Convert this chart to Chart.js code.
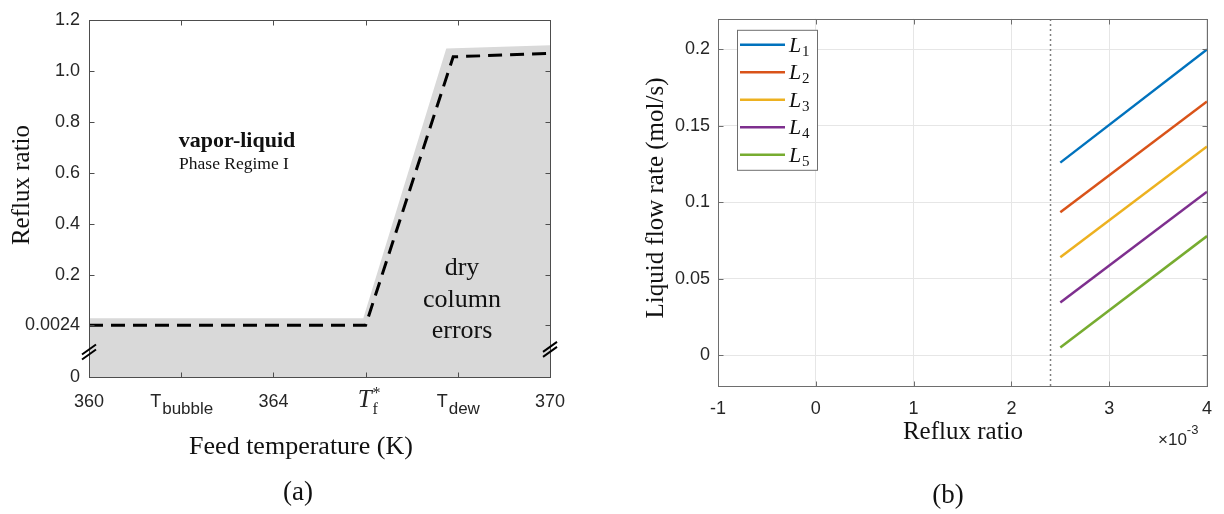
<!DOCTYPE html>
<html>
<head>
<meta charset="utf-8">
<script src="https://cdn.jsdelivr.net/npm/chart.js@4.4.1/dist/chart.umd.min.js"></script>
<style>
html, body { margin: 0; padding: 0; background: #fff; }
#wrap { position: relative; width: 1224px; height: 514px; overflow: hidden; }
#regime { position: absolute; left: 0; top: 0; }
#flow { position: absolute; left: 600px; top: 0; }
</style>
</head>
<body>
<div id="wrap">
  <canvas id="regime" width="600" height="514"></canvas>
  <canvas id="flow" width="624" height="514"></canvas>
</div>
<script>
// (a) operating regimes vs feed temperature
var feedTicks = [360, 362, 364, 366, 368, 370];
var feedTickText = ['360', 'T', '364', 'T', 'T', '370'];
var feedTickSub = ['', 'bubble', '', 'f', 'dew', ''];
var feedTickSup = ['', '', '', '*', '', ''];
var refluxTicks = [-0.2, 0.0024, 0.2, 0.4, 0.6, 0.8, 1.0, 1.2];
var refluxTickLabels = ['0', '0.0024', '0.2', '0.4', '0.6', '0.8', '1.0', '1.2'];
var boundaryT = [360, 366, 367.9, 370];
var boundaryR = [0.0024, 0.0024, 1.055, 1.068];
var dryT = [360, 365.95, 367.75, 370];
var dryR = [0.03, 0.03, 1.088, 1.10];

// (b) liquid flow per stream vs reflux ratio
var refluxB = [0.0025, 0.004];
var flowL1 = [0.126, 0.200];
var flowL2 = [0.0936, 0.166];
var flowL3 = [0.0641, 0.1365];
var flowL4 = [0.0346, 0.107];
var flowL5 = [0.0051, 0.078];
var minReflux = 0.0024;
var refluxTicksB = [-0.001, 0, 0.001, 0.002, 0.003, 0.004];
var refluxTickLabelsB = ['-1', '0', '1', '2', '3', '4'];
var flowTicks = [0, 0.05, 0.1, 0.15, 0.2];
var flowTickLabels = ['0', '0.05', '0.1', '0.15', '0.2'];
var streamNames = ['1', '2', '3', '4', '5'];
var streamColors = ['#0072BD', '#D95319', '#EDB120', '#7E2F8E', '#77AC30'];

var sans = '"Liberation Sans", Arial, sans-serif';
var serif = '"Liberation Serif", "Times New Roman", serif';
var ink = '#262626';

function pts(xs, ys) {
  return xs.map(function (x, i) { return { x: x, y: ys[i] }; });
}

function setTicks(vals) {
  return function (scale) {
    scale.ticks = vals.map(function (v) { return { value: v }; });
  };
}

// box round the plot with inward tick marks on all four sides
function frame(chart, len, color) {
  var ctx = chart.ctx, a = chart.chartArea;
  var sx = chart.scales.x, sy = chart.scales.y;
  var l = Math.round(a.left) + 0.5, r = Math.round(a.right) + 0.5;
  var t = Math.round(a.top) + 0.5, b = Math.round(a.bottom) + 0.5;
  ctx.save();
  ctx.strokeStyle = color;
  ctx.lineWidth = 1;
  ctx.beginPath();
  sx.ticks.forEach(function (tk) {
    var px = Math.round(sx.getPixelForValue(tk.value)) + 0.5;
    ctx.moveTo(px, t); ctx.lineTo(px, t + len);
    ctx.moveTo(px, b); ctx.lineTo(px, b - len);
  });
  sy.ticks.forEach(function (tk) {
    var py = Math.round(sy.getPixelForValue(tk.value)) + 0.5;
    ctx.moveTo(l, py); ctx.lineTo(l + len, py);
    ctx.moveTo(r, py); ctx.lineTo(r - len, py);
  });
  ctx.stroke();
  ctx.strokeRect(l, t, r - l, b - t);
  ctx.restore();
}

function label(ctx, str, x, y, font, align) {
  ctx.font = font;
  ctx.fillStyle = '#111';
  ctx.textAlign = align || 'center';
  ctx.textBaseline = 'alphabetic';
  ctx.fillText(str, x, y);
}

function vlabel(ctx, str, x, y, font) {
  ctx.save();
  ctx.translate(x, y);
  ctx.rotate(-Math.PI / 2);
  ctx.font = font;
  ctx.fillStyle = '#111';
  ctx.textAlign = 'center';
  ctx.textBaseline = 'middle';
  ctx.fillText(str, 0, 0);
  ctx.restore();
}

// text with a subscript and/or superscript, centred on x
function scripted(ctx, x, y, main, sub, sup, mainFont, smallFont, color) {
  ctx.font = mainFont;
  var wm = ctx.measureText(main).width;
  ctx.font = smallFont;
  var ws = Math.max(ctx.measureText(sub).width, ctx.measureText(sup).width);
  var x0 = x - (wm + ws) / 2;
  ctx.fillStyle = color;
  ctx.textAlign = 'left';
  ctx.textBaseline = 'alphabetic';
  ctx.font = mainFont;
  ctx.fillText(main, x0, y);
  ctx.font = smallFont;
  if (sub) ctx.fillText(sub, x0 + wm + 1, y + 7);
  if (sup) ctx.fillText(sup, x0 + wm + 1, y - 9);
}

function axisBreak(ctx, x, y) {
  ctx.save();
  ctx.strokeStyle = '#000';
  ctx.lineWidth = 2;
  ctx.beginPath();
  ctx.moveTo(x - 7, y + 3); ctx.lineTo(x + 7, y - 7);
  ctx.moveTo(x - 7, y + 8); ctx.lineTo(x + 7, y - 2);
  ctx.stroke();
  ctx.restore();
}

var regimeDecor = {
  id: 'regimeDecor',
  afterDraw: function (chart) {
    var ctx = chart.ctx, sx = chart.scales.x, sy = chart.scales.y, a = chart.chartArea;
    frame(chart, 5, '#4d4d4d');
    axisBreak(ctx, a.left, sy.getPixelForValue(-0.1));
    axisBreak(ctx, a.right, sy.getPixelForValue(-0.09));

    feedTicks.forEach(function (v, i) {
      var px = sx.getPixelForValue(v);
      if (feedTickSup[i]) {
        scripted(ctx, px + 3, 407, feedTickText[i], feedTickSub[i], feedTickSup[i],
          'italic 25px ' + serif, '16px ' + serif, ink);
      } else {
        scripted(ctx, px, 407, feedTickText[i], feedTickSub[i], '',
          '18px ' + sans, '17px ' + sans, ink);
      }
    });

    label(ctx, 'vapor-liquid', 237, 147, 'bold 22px ' + serif);
    label(ctx, 'Phase Regime I', 234, 169, '17.5px ' + serif);
    label(ctx, 'dry', 462, 275, '26px ' + serif);
    label(ctx, 'column', 462, 307, '26px ' + serif);
    label(ctx, 'errors', 462, 338, '26px ' + serif);

    vlabel(ctx, 'Reflux ratio', 22, 185, '25px ' + serif);
    label(ctx, 'Feed temperature (K)', 301, 454, '26px ' + serif);
    label(ctx, '(a)', 298, 500, '27px ' + serif);
  }
};

new Chart(document.getElementById('regime'), {
  type: 'scatter',
  data: {
    datasets: [{
      // phase boundary (drawn on top of the shaded region)
      data: pts(boundaryT, boundaryR),
      showLine: true,
      fill: false,
      borderColor: '#000',
      borderWidth: 3,
      borderDash: [14, 8],
      pointRadius: 0
    }, {
      // dry column region
      data: pts(dryT, dryR),
      showLine: true,
      fill: 'start',
      backgroundColor: '#d9d9d9',
      borderWidth: 0,
      pointRadius: 0
    }]
  },
  options: {
    responsive: false,
    animation: false,
    layout: { padding: { left: 0, right: 50, top: 14, bottom: 0 } },
    plugins: { legend: { display: false }, tooltip: { enabled: false } },
    scales: {
      x: {
        type: 'linear', min: 360, max: 370,
        afterBuildTicks: setTicks(feedTicks),
        afterFit: function (s) { s.height = 137; },
        grid: { display: false, drawTicks: false },
        border: { display: false },
        ticks: { display: false }
      },
      y: {
        min: -0.2, max: 1.2,
        afterBuildTicks: setTicks(refluxTicks),
        afterFit: function (s) { s.width = 89; },
        grid: { display: false, drawTicks: false },
        border: { display: false },
        ticks: {
          padding: 9,
          color: ink,
          font: { family: sans, size: 18 },
          callback: function (v, i) { return refluxTickLabels[i]; }
        }
      }
    }
  },
  plugins: [regimeDecor]
});

var flowDecor = {
  id: 'flowDecor',
  afterDraw: function (chart) {
    var ctx = chart.ctx, a = chart.chartArea;
    frame(chart, 5, '#6e6e6e');

    // legend box
    var lx = a.left + 19, ly = a.top + 11;
    ctx.save();
    ctx.fillStyle = '#fff';
    ctx.fillRect(lx, ly, 80, 140);
    ctx.strokeStyle = '#6e6e6e';
    ctx.lineWidth = 1;
    ctx.strokeRect(lx + 0.5, ly + 0.5, 80, 140);
    streamNames.forEach(function (n, i) {
      var y = ly + 15 + i * 27.5;
      ctx.strokeStyle = streamColors[i];
      ctx.lineWidth = 2.5;
      ctx.beginPath();
      ctx.moveTo(lx + 3, y); ctx.lineTo(lx + 48, y);
      ctx.stroke();
      ctx.fillStyle = '#111';
      ctx.textAlign = 'left';
      ctx.textBaseline = 'alphabetic';
      ctx.font = 'italic 22px ' + serif;
      ctx.fillText('L', lx + 52, y + 7);
      ctx.font = '15px ' + serif;
      ctx.fillText(n, lx + 65, y + 11);
    });
    ctx.restore();

    vlabel(ctx, 'Liquid flow rate (mol/s)', 56, 198, '25px ' + serif);
    label(ctx, 'Reflux ratio', 363, 439, '25px ' + serif);
    ctx.font = '17px ' + sans;
    ctx.fillStyle = ink;
    ctx.textAlign = 'left';
    ctx.fillText('\u00d710', 558, 445);
    var w = ctx.measureText('\u00d710').width;
    ctx.font = '13px ' + sans;
    ctx.fillText('-3', 558 + w, 434);
    label(ctx, '(b)', 348, 503, '27px ' + serif);
  }
};

var flowSeries = [flowL1, flowL2, flowL3, flowL4, flowL5];
var flowSets = flowSeries.map(function (ys, i) {
  return {
    data: pts(refluxB, ys),
    showLine: true,
    borderColor: streamColors[i],
    borderWidth: 2.5,
    pointRadius: 0,
    fill: false
  };
});
flowSets.push({
  data: pts([minReflux, minReflux], [-0.02, 0.22]),
  showLine: true,
  borderColor: '#7f7f7f',
  borderWidth: 1.5,
  borderDash: [2, 3],
  pointRadius: 0,
  fill: false
});

new Chart(document.getElementById('flow'), {
  type: 'scatter',
  data: { datasets: flowSets },
  options: {
    responsive: false,
    animation: false,
    layout: { padding: { left: 0, right: 17, top: 11, bottom: 0 } },
    plugins: { legend: { display: false }, tooltip: { enabled: false } },
    scales: {
      x: {
        type: 'linear', min: -0.001, max: 0.004,
        afterBuildTicks: setTicks(refluxTicksB),
        afterFit: function (s) { s.height = 128; },
        grid: { color: '#e6e6e6', drawTicks: false },
        border: { display: false },
        ticks: {
          padding: 12,
          autoSkip: false,
          maxRotation: 0,
          color: ink,
          font: { family: sans, size: 18 },
          callback: function (v, i) { return refluxTickLabelsB[i]; }
        }
      },
      y: {
        min: -0.02, max: 0.22,
        afterBuildTicks: setTicks(flowTicks),
        afterFit: function (s) { s.width = 118; },
        grid: { color: '#e6e6e6', drawTicks: false },
        border: { display: false },
        ticks: {
          padding: 8,
          color: ink,
          font: { family: sans, size: 18 },
          callback: function (v, i) { return flowTickLabels[i]; }
        }
      }
    }
  },
  plugins: [flowDecor]
});
</script>
</body>
</html>
